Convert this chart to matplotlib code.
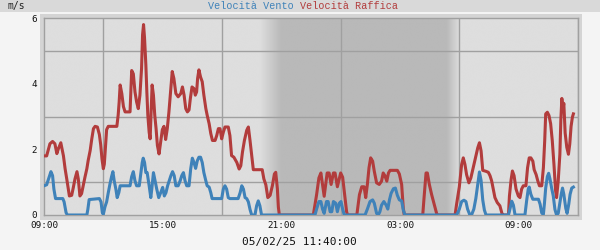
import matplotlib
matplotlib.use("Agg")
import matplotlib.pyplot as plt
import numpy as np
from matplotlib.colors import LinearSegmentedColormap
from matplotlib.patches import Rectangle

# minutes since 09:00 (04/02/25) and speeds in m/s
raffica_min = [0, 8, 18, 26, 33, 39, 43, 51, 59, 64, 69, 77, 84, 89, 94, 100, 104, 109, 114, 119,
               124, 130, 134, 140, 145, 150, 155, 162, 168, 172, 176, 180, 183, 187, 190, 195, 221, 225, 228, 231,
               236, 241, 246, 261, 266, 271, 276, 281, 286, 291, 296, 299, 302, 305, 309, 312, 315, 319, 322, 325,
               328, 332, 336, 340, 344, 349, 354, 359, 364, 369, 374, 379, 384, 389, 394, 400, 407, 415, 420, 425,
               430, 435, 440, 444, 449, 455, 459, 463, 466, 470, 475, 480, 485, 491, 495, 501, 506, 511, 519, 524,
               529, 534, 539, 544, 549, 559, 564, 569, 576, 585, 592, 597, 602, 608, 615, 620, 625, 630, 635, 662,
               667, 673, 679, 686, 693, 699, 703, 708, 711, 714, 817, 827, 834, 840, 850, 859, 865, 871, 878, 883,
               890, 900, 906, 913, 918, 921, 949, 957, 964, 971, 976, 981, 986, 991, 997, 1002, 1009, 1017, 1024, 1029,
               1034, 1040, 1045, 1050, 1072, 1078, 1085, 1090, 1093, 1149, 1153, 1159, 1163, 1169, 1176, 1183, 1191, 1194, 1247, 1252,
               1260, 1267, 1272, 1277, 1282, 1289, 1295, 1302, 1311, 1316, 1321, 1326, 1331, 1341, 1348, 1353, 1358, 1363, 1368, 1375,
               1383, 1389, 1390, 1409, 1412, 1417, 1421, 1426, 1432, 1439, 1444, 1449, 1454, 1462, 1467, 1472, 1477, 1483, 1487, 1493,
               1498, 1503, 1510, 1515, 1519, 1522, 1527, 1532, 1537, 1542, 1547, 1552, 1555, 1560, 1565, 1568, 1571, 1574, 1577, 1581,
               1586, 1591, 1595, 1599, 1603, 1606]
raffica = [1.8, 1.8, 2.17, 2.24, 2.17, 1.87, 2.0, 2.2, 1.8, 1.41, 1.1, 0.58, 0.6, 0.84, 1.1, 1.32, 1.1, 0.58, 0.65, 0.9,
           1.14, 1.41, 1.66, 1.96, 2.32, 2.63, 2.7, 2.68, 2.45, 2.14, 1.7, 1.41, 1.55, 2.14, 2.6, 2.7, 2.7, 3.04, 3.44, 3.96,
           3.7, 3.3, 3.14, 3.14, 4.4, 4.3, 3.75, 3.44, 3.24, 3.65, 4.47, 5.49, 5.8, 5.39, 4.57, 3.75, 3.04, 2.52, 2.32, 3.14,
           3.96, 3.65, 3.04, 2.63, 2.12, 1.86, 2.22, 2.6, 2.7, 2.3, 2.63, 3.14, 3.75, 4.37, 4.16, 3.7, 3.6, 3.7, 3.9, 3.65,
           3.24, 3.14, 3.2, 3.55, 3.9, 3.85, 3.65, 3.75, 4.16, 4.42, 4.2, 4.06, 3.65, 3.24, 3.04, 2.78, 2.48, 2.27, 2.27, 2.42,
           2.63, 2.63, 2.32, 2.52, 2.68, 2.68, 2.42, 1.81, 1.76, 1.6, 1.4, 1.5, 1.91, 2.27, 2.58, 2.68, 2.27, 1.81, 1.38, 1.38,
           1.1, 0.92, 0.53, 0.6, 0.9, 1.25, 1.3, 0.8, 0.24, 0.0, 0.0, 0.62, 1.13, 1.28, 0.57, 1.28, 1.28, 0.93, 1.28, 1.28,
           0.86, 1.28, 1.15, 0.53, 0.1, 0.0, 0.0, 0.62, 0.86, 0.86, 0.53, 0.93, 1.44, 1.74, 1.64, 1.33, 0.98, 0.93, 1.03, 1.28,
           1.2, 1.03, 1.28, 1.36, 1.36, 1.25, 0.93, 0.2, 0.0, 0.0, 0.53, 1.28, 1.28, 0.93, 0.62, 0.35, 0.05, 0.0, 0.0, 0.35,
           0.86, 1.54, 1.74, 1.54, 1.23, 0.98, 1.13, 1.44, 1.85, 2.05, 2.2, 1.95, 1.36, 1.33, 1.3, 1.2, 1.04, 0.79, 0.53, 0.38,
           0.28, 0.06, 0.0, 0.0, 0.58, 1.07, 1.34, 1.2, 0.79, 0.58, 0.53, 0.79, 0.89, 0.89, 1.44, 1.74, 1.74, 1.64, 1.38, 1.23,
           1.04, 0.89, 0.89, 1.44, 2.26, 3.08, 3.13, 3.03, 2.78, 2.26, 1.55, 0.74, 0.53, 1.04, 1.85, 2.9, 3.55, 3.2, 3.4, 2.5,
           2.06, 1.85, 2.16, 2.7, 2.98, 3.08]

vento_min = [0, 8, 15, 21, 26, 30, 35, 57, 61, 67, 71, 130, 133, 137, 168, 173, 177, 180, 185, 190,
             195, 200, 205, 209, 213, 218, 222, 227, 231, 261, 266, 271, 276, 281, 289, 294, 298, 301, 305, 309,
             313, 319, 324, 327, 332, 337, 342, 348, 354, 360, 365, 370, 375, 380, 385, 390, 395, 400, 407, 413,
             418, 423, 428, 433, 440, 445, 450, 455, 460, 465, 470, 475, 480, 485, 491, 495, 501, 506, 510, 539,
             544, 549, 554, 559, 564, 589, 595, 600, 605, 610, 615, 620, 625, 630, 640, 645, 650, 655, 660, 822,
             827, 834, 840, 845, 850, 857, 862, 868, 873, 878, 885, 890, 896, 901, 906, 911, 974, 981, 989, 997,
             1002, 1009, 1014, 1019, 1024, 1031, 1038, 1043, 1048, 1053, 1060, 1066, 1072, 1078, 1085, 1090, 1095, 1252, 1260, 1267,
             1274, 1280, 1285, 1292, 1297, 1304, 1310, 1316, 1321, 1326, 1331, 1336, 1341, 1409, 1414, 1419, 1424, 1429, 1459, 1464,
             1469, 1472, 1477, 1483, 1500, 1505, 1510, 1515, 1518, 1522, 1527, 1531, 1535, 1540, 1545, 1550, 1555, 1560, 1565, 1569,
             1573, 1577, 1583, 1587, 1592, 1596, 1601, 1606]
vento = [0.89, 0.92, 1.14, 1.32, 1.2, 0.79, 0.5, 0.5, 0.4, 0.07, 0.0, 0.0, 0.17, 0.47, 0.5, 0.4, 0.07, 0.02, 0.25, 0.4,
         0.68, 0.94, 1.17, 1.32, 1.04, 0.79, 0.53, 0.68, 0.89, 0.89, 1.17, 1.32, 1.04, 0.89, 0.89, 1.29, 1.6, 1.73, 1.6, 1.29,
         1.29, 0.89, 0.53, 0.79, 1.29, 1.04, 0.79, 0.53, 0.68, 0.84, 0.58, 0.68, 0.89, 1.04, 1.2, 1.32, 1.2, 0.89, 0.89, 1.04,
         1.2, 1.29, 1.04, 0.89, 0.89, 1.4, 1.73, 1.6, 1.42, 1.65, 1.76, 1.76, 1.6, 1.29, 1.04, 0.89, 0.85, 0.68, 0.5, 0.5,
         0.79, 0.89, 0.79, 0.53, 0.5, 0.5, 0.68, 0.89, 0.79, 0.53, 0.5, 0.4, 0.17, 0.0, 0.0, 0.28, 0.43, 0.28, 0.0, 0.0,
         0.18, 0.41, 0.41, 0.18, 0.05, 0.41, 0.41, 0.1, 0.1, 0.41, 0.36, 0.1, 0.36, 0.41, 0.18, 0.0, 0.0, 0.18, 0.41, 0.46,
         0.36, 0.05, 0.0, 0.1, 0.3, 0.41, 0.3, 0.18, 0.46, 0.66, 0.8, 0.82, 0.6, 0.46, 0.43, 0.15, 0.0, 0.0, 0.18, 0.41,
         0.45, 0.41, 0.18, 0.0, 0.0, 0.18, 0.5, 0.93, 1.31, 1.05, 0.46, 0.15, 0.0, 0.0, 0.2, 0.42, 0.3, 0.0, 0.0, 0.42,
         0.79, 0.85, 0.63, 0.48, 0.48, 0.33, 0.06, 0.02, 0.33, 0.82, 1.17, 1.27, 1.1, 0.82, 0.58, 0.17, 0.0, 0.05, 0.37, 0.63,
         0.82, 0.63, 0.2, 0.05, 0.33, 0.63, 0.82, 0.85]

tick_pos = [0, 360, 720, 1080, 1440]
tick_labels = ["09:00", "15:00", "21:00", "03:00", "09:00"]
y_ticks = [0, 2, 4, 6]
timestamp = "05/02/25 11:40:00"

# night band (minutes): fade in, dark, fade out
dusk_start, night_start, night_end, dawn_end = 655, 720, 1222, 1262

RED = "#b23c3c"
BLUE = "#3f82b9"
W, H = 600, 250

fig = plt.figure(figsize=(6, 2.5), dpi=100, facecolor="#f4f4f4")
fig.patches.append(Rectangle((0, 1 - 12 / H), 1, 12 / H, transform=fig.transFigure,
                             facecolor="#d9d9d9", edgecolor="none", zorder=-5))
fig.patches.append(Rectangle((40 / W, 1 - 220 / H), 542 / W, 206 / H, transform=fig.transFigure,
                             facecolor="#d4d4d4", edgecolor="none", zorder=-5))

ax = fig.add_axes([44 / W, 1 - 215 / H, 534 / W, 197 / H])
ax.set_xlim(0, 1620)
ax.set_ylim(0, 6)

t = np.arange(0, 1621)
shade = np.interp(t, [0, dusk_start, night_start, night_end, dawn_end, 1620], [0, 0, 1, 1, 0, 0])
cmap = LinearSegmentedColormap.from_list("night", ["#dedede", "#b9b9b9"])
ax.imshow(shade[np.newaxis, :], extent=(0, 1620, 0, 6), aspect="auto", cmap=cmap,
          vmin=0, vmax=1, interpolation="bilinear", zorder=0)

ax.set_xticks(tick_pos)
ax.set_xticklabels(tick_labels)
ax.set_xticks(np.arange(0, 1621, 180), minor=True)
ax.set_yticks(y_ticks)
ax.set_yticks(range(0, 7), minor=True)
ax.grid(True, which="minor", color="#a0a0a0", linewidth=1.0, zorder=1)
ax.tick_params(which="both", length=0)
ax.tick_params(axis="x", pad=4, labelsize=6.7, labelcolor="#111111")
ax.tick_params(axis="y", pad=5, labelsize=6.7, labelcolor="#111111")
for lab in ax.get_xticklabels() + ax.get_yticklabels():
    lab.set_family("DejaVu Sans Mono")
for s in ax.spines.values():
    s.set_color("#a0a0a0")
    s.set_linewidth(1.0)

ax.plot(raffica_min, raffica, color=RED, linewidth=2.2, zorder=3)
ax.plot(vento_min, vento, color=BLUE, linewidth=2.2, zorder=4)

fig.text(8 / W, 1 - 6 / H, "m/s", family="DejaVu Sans Mono", fontsize=7, color="#222222",
         ha="left", va="center")
fig.text(294 / W, 1 - 6 / H, "Velocità Vento", family="Liberation Mono", fontsize=7.3,
         color=BLUE, ha="right", va="center")
fig.text(300 / W, 1 - 6 / H, "Velocità Raffica", family="Liberation Mono", fontsize=7.3,
         color=RED, ha="left", va="center")
fig.text(299 / W, 1 - 242 / H, timestamp, family="DejaVu Sans Mono", fontsize=8,
         color="#111111", ha="center", va="center")

fig.savefig("out.png", dpi=100, facecolor=fig.get_facecolor())
